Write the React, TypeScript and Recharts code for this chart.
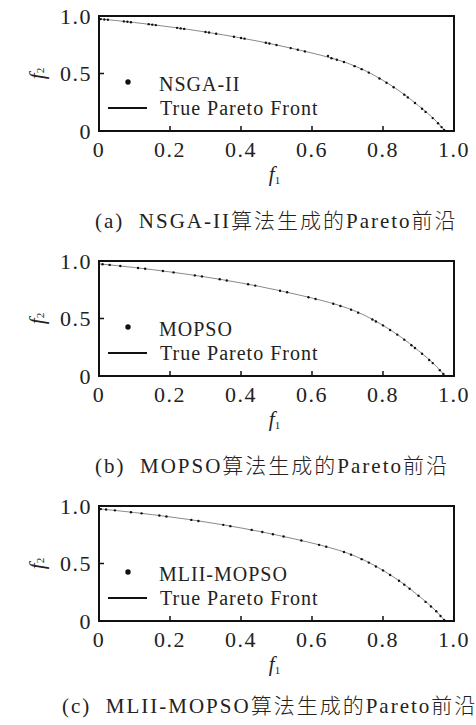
import React from 'react';
import {
  ComposedChart,
  Line,
  Scatter,
  XAxis,
  YAxis,
  ReferenceArea,
  Legend
} from 'recharts';

const SERIF = '"Liberation Serif", "Times New Roman", "Noto Sans CJK SC", serif';

// axis ticks
const xTicks = [0, 0.2, 0.4, 0.6, 0.8, 1.0];
const yTicks = [0, 0.5, 1.0];

// true Pareto front
const frontF1 = [0, 0.05, 0.1, 0.15, 0.2, 0.25, 0.3, 0.35, 0.4, 0.45, 0.5, 0.55, 0.6, 0.65, 0.7, 0.75, 0.8, 0.85, 0.9, 0.95, 0.975];
const frontF2 = [0.975, 0.96, 0.943, 0.925, 0.905, 0.884, 0.861, 0.836, 0.809, 0.78, 0.748, 0.714, 0.678, 0.638, 0.59, 0.525, 0.44, 0.34, 0.22, 0.085, 0];

// NSGA-II solutions
const nsgaF1 = [0.005, 0.015, 0.025, 0.07, 0.08, 0.09, 0.14, 0.15, 0.16, 0.22, 0.23, 0.24, 0.3, 0.31, 0.33, 0.38, 0.4, 0.41, 0.47, 0.48, 0.5, 0.54, 0.56, 0.58, 0.645, 0.655, 0.67, 0.69, 0.72, 0.74, 0.76, 0.79, 0.81, 0.83, 0.86, 0.87, 0.89, 0.91, 0.92, 0.94, 0.955, 0.965, 0.972];
const nsgaF2 = [0.973, 0.97, 0.967, 0.953, 0.95, 0.946, 0.929, 0.925, 0.921, 0.897, 0.892, 0.888, 0.861, 0.856, 0.846, 0.82, 0.809, 0.803, 0.767, 0.761, 0.748, 0.721, 0.707, 0.692, 0.652, 0.633, 0.619, 0.6, 0.564, 0.538, 0.508, 0.457, 0.42, 0.38, 0.316, 0.292, 0.244, 0.193, 0.166, 0.112, 0.068, 0.034, 0.01];

// MOPSO solutions
const mopsoF1 = [0.01, 0.03, 0.06, 0.11, 0.13, 0.18, 0.21, 0.27, 0.29, 0.34, 0.36, 0.42, 0.44, 0.51, 0.53, 0.59, 0.61, 0.66, 0.68, 0.71, 0.73, 0.77, 0.78, 0.8, 0.82, 0.84, 0.86, 0.88, 0.89, 0.91, 0.93, 0.94, 0.96, 0.97];
const mopsoF2 = [0.972, 0.966, 0.957, 0.939, 0.932, 0.913, 0.901, 0.875, 0.866, 0.841, 0.831, 0.798, 0.786, 0.741, 0.728, 0.685, 0.67, 0.628, 0.609, 0.577, 0.551, 0.491, 0.474, 0.44, 0.4, 0.36, 0.316, 0.268, 0.244, 0.193, 0.139, 0.112, 0.051, 0.017];

// MLII-MOPSO solutions
const mliiF1 = [0.005, 0.02, 0.045, 0.09, 0.12, 0.17, 0.19, 0.26, 0.28, 0.35, 0.37, 0.43, 0.46, 0.49, 0.52, 0.57, 0.62, 0.64, 0.69, 0.71, 0.74, 0.76, 0.78, 0.8, 0.82, 0.845, 0.86, 0.875, 0.9, 0.92, 0.935, 0.95, 0.962, 0.972];
const mliiF2 = [0.973, 0.969, 0.962, 0.946, 0.936, 0.917, 0.909, 0.879, 0.87, 0.836, 0.825, 0.792, 0.774, 0.755, 0.735, 0.7, 0.662, 0.646, 0.6, 0.577, 0.538, 0.508, 0.474, 0.44, 0.4, 0.35, 0.316, 0.28, 0.22, 0.166, 0.126, 0.085, 0.044, 0.01];

const algoNames = ['NSGA-II', 'MOPSO', 'MLII-MOPSO'];
const captions = [
  '(a)  NSGA-II算法生成的Pareto前沿',
  '(b)  MOPSO算法生成的Pareto前沿',
  '(c)  MLII-MOPSO算法生成的Pareto前沿'
];

const zip = (a: number[], b: number[]) => a.map((f1, i) => ({ f1, f2: b[i] }));
const front = zip(frontF1, frontF2);
const solutions = [zip(nsgaF1, nsgaF2), zip(mopsoF1, mopsoF2), zip(mliiF1, mliiF2)];

const fmt = (v: number) => (v === 0 ? '0' : v.toFixed(1));

const F1Label = (props: any) => {
  const vb = props.viewBox || { x: 99, y: 131, width: 355, height: 54 };
  return (
    <text x={vb.x + vb.width / 2 - 2} y={vb.y + 50} textAnchor="middle" fontFamily={SERIF} fontSize={21} fill="#222">
      <tspan fontStyle="italic">f</tspan>
      <tspan fontSize={11} dy={3}>1</tspan>
    </text>
  );
};

const F2Label = (props: any) => {
  const vb = props.viewBox || { x: 59, y: 16, width: 40, height: 115 };
  const cx = vb.x - 22;
  const cy = vb.y + vb.height / 2;
  return (
    <text
      x={cx}
      y={cy}
      textAnchor="middle"
      dominantBaseline="central"
      transform={`rotate(-90, ${cx}, ${cy})`}
      fontFamily={SERIF}
      fontSize={21}
      fill="#222"
    >
      <tspan fontStyle="italic">f</tspan>
      <tspan fontSize={11} dy={3}>2</tspan>
    </text>
  );
};

const LegendBox = ({ name }: { name: string }) => (
  <svg width={476} height={200} style={{ display: 'block' }}>
    <circle cx={128} cy={82} r={2.7} fill="#111" />
    <text x={159} y={91} fontFamily={SERIF} fontSize={20} letterSpacing={1} fill="#222">{name}</text>
    <line x1={108} x2={147} y1={108} y2={108} stroke="#111" strokeWidth={2} />
    <text x={160} y={115} fontFamily={SERIF} fontSize={20} letterSpacing={1} fill="#222">True Pareto Front</text>
  </svg>
);

const Dot = (props: any) => <circle cx={props.cx} cy={props.cy} r={1.2} fill="#111" />;

const Panel = ({ idx }: { idx: number }) => (
  <div style={{ position: 'absolute', left: 0, top: idx * 245 }}>
    <ComposedChart width={476} height={200} margin={{ top: 16, right: 22, bottom: 15, left: 59 }}>
      <XAxis
        type="number"
        dataKey="f1"
        domain={[0, 1]}
        ticks={xTicks}
        interval={0}
        tickFormatter={fmt}
        tickSize={-5}
        tickMargin={15}
        height={54}
        axisLine={{ stroke: '#111', strokeWidth: 2 }}
        tickLine={{ stroke: '#111', strokeWidth: 1.5 }}
        tick={{ fill: '#222', fontSize: 22, fontFamily: SERIF, letterSpacing: 1.5 }}
        label={F1Label}
      />
      <YAxis
        type="number"
        dataKey="f2"
        domain={[0, 1]}
        ticks={yTicks}
        interval={0}
        tickFormatter={fmt}
        tickSize={-5}
        tickMargin={12}
        width={40}
        axisLine={{ stroke: '#111', strokeWidth: 2 }}
        tickLine={{ stroke: '#111', strokeWidth: 1.5 }}
        tick={{ fill: '#222', fontSize: 22, fontFamily: SERIF, letterSpacing: 1.5 }}
        label={F2Label}
      />
      <ReferenceArea x1={0} x2={1} y1={0} y2={1} fill="none" stroke="#111" strokeWidth={2} />
      <Line
        data={front}
        dataKey="f2"
        type="monotone"
        stroke="#8a8a8a"
        strokeWidth={1}
        dot={false}
        activeDot={false}
        isAnimationActive={false}
      />
      <Scatter data={solutions[idx]} dataKey="f2" shape={Dot} isAnimationActive={false} />
      <Legend
        layout="horizontal"
        verticalAlign="middle"
        align="center"
        content={() => <LegendBox name={algoNames[idx]} />}
        wrapperStyle={{ position: 'absolute', left: 0, top: 0, width: 476, height: 200, pointerEvents: 'none' }}
      />
    </ComposedChart>
  </div>
);

const captionPos = [
  { left: 95, top: 211 },
  { left: 95, top: 456 },
  { left: 62, top: 696 }
];

export default function App() {
  return (
    <div style={{ position: 'absolute', left: 0, top: 0, width: 476, height: 725, background: '#fff' }}>
      {[0, 1, 2].map((i) => (
        <Panel key={i} idx={i} />
      ))}
      {captions.map((c, i) => (
        <div
          key={c}
          style={{
            position: 'absolute',
            left: captionPos[i].left,
            top: captionPos[i].top,
            fontFamily: SERIF,
            fontSize: 21,
            fontWeight: 300,
            lineHeight: '20px',
            letterSpacing: 2,
            whiteSpace: 'pre',
            color: '#222'
          }}
        >
          {c}
        </div>
      ))}
    </div>
  );
}
